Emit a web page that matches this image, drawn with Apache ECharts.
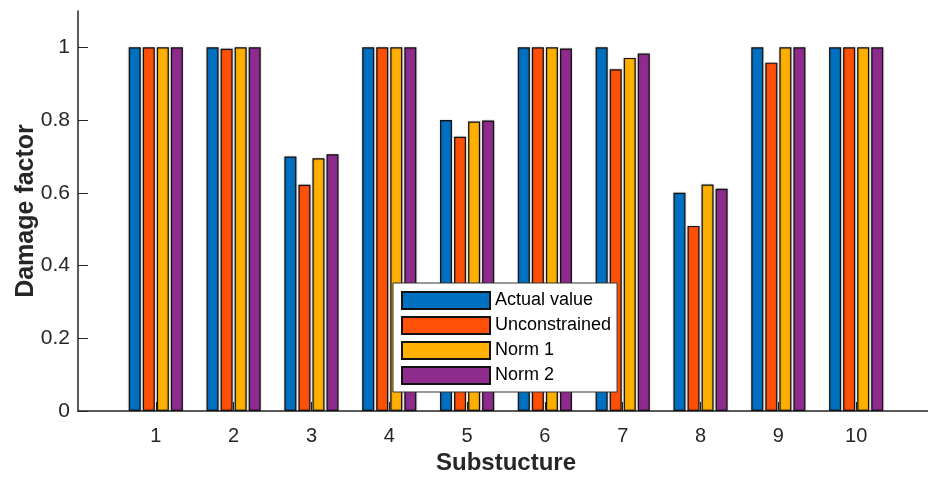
<!DOCTYPE html>
<html>
<head>
<meta charset="utf-8">
<script src="https://cdn.jsdelivr.net/npm/echarts@6/dist/echarts.min.js"></script>
<style>
  html, body { margin: 0; padding: 0; background: #fff; }
  #damageChart { width: 928px; height: 477px; }
</style>
</head>
<body>
<div id="damageChart"></div>
<script>
var substructures = [1, 2, 3, 4, 5, 6, 7, 8, 9, 10];
var actualValue = [1, 1, 0.7, 1, 0.8, 1, 1, 0.6, 1, 1];
var unconstrained = [1, 0.996, 0.622, 1, 0.754, 1, 0.94, 0.509, 0.958, 1];
var norm1 = [1, 1, 0.695, 1, 0.796, 1, 0.971, 0.623, 1, 1];
var norm2 = [1, 1, 0.706, 1, 0.799, 0.997, 0.983, 0.611, 1, 1];
var yTicks = [0, 0.2, 0.4, 0.6, 0.8, 1];

var seriesNames = ["Actual value", "Unconstrained", "Norm 1", "Norm 2"];
var seriesColors = ["#0070C0", "#FF5008", "#FFB000", "#8E2C8E"];
var seriesValues = [actualValue, unconstrained, norm1, norm2];

function toPairs(values) {
  return substructures.map(function (x, i) {
    return [x, values[i]];
  });
}

var myChart = echarts.init(document.getElementById("damageChart"));
myChart.setOption({
  animation: false,
  textStyle: { fontFamily: "Liberation Sans, Arial, sans-serif" },
  grid: {
    left: 78,
    top: 11,
    bottom: 66,
    right: -6,
    containLabel: false,
    outerBoundsMode: "none"
  },
  legend: {
    orient: "vertical",
    left: 393,
    top: 283,
    itemWidth: 88,
    itemHeight: 17,
    itemGap: 6,
    padding: [8, 6, 7, 8],
    backgroundColor: "#fff",
    borderColor: "#333",
    borderWidth: 1,
    borderRadius: 0,
    icon: "rect",
    textStyle: { fontSize: 18, lineHeight: 19, color: "#000" },
    data: seriesNames
  },
  xAxis: {
    type: "value",
    min: 0,
    max: 11,
    interval: 1,
    name: "Substucture",
    nameLocation: "middle",
    nameMoveOverlap: false,
    nameGap: 40,
    nameTextStyle: { fontSize: 24, fontWeight: "bold", color: "#262626" },
    splitLine: { show: false },
    axisLine: { lineStyle: { color: "#262626", width: 1.5 } },
    axisTick: {
      inside: true,
      length: 9,
      customValues: substructures,
      lineStyle: { color: "#262626" }
    },
    axisLabel: {
      customValues: substructures,
      margin: 15,
      fontSize: 20,
      color: "#262626"
    }
  },
  yAxis: {
    type: "value",
    min: 0,
    max: 1.1,
    name: "Damage factor",
    nameLocation: "middle",
    nameMoveOverlap: false,
    nameGap: 39,
    nameTextStyle: { fontSize: 25, fontWeight: "bold", color: "#262626" },
    splitLine: { show: false },
    axisLine: { show: true, lineStyle: { color: "#262626", width: 1.5 } },
    axisTick: {
      show: true,
      inside: true,
      length: 10,
      customValues: yTicks,
      lineStyle: { color: "#262626" }
    },
    axisLabel: {
      customValues: yTicks,
      margin: 8,
      fontSize: 21,
      color: "#262626"
    }
  },
  series: seriesNames.map(function (name, k) {
    return {
      name: name,
      type: "bar",
      barWidth: 12,
      barGap: "17%",
      data: toPairs(seriesValues[k]),
      itemStyle: {
        color: seriesColors[k],
        borderColor: "#111",
        borderWidth: 1.2,
        shadowColor: "rgba(0,0,0,0.25)",
        shadowBlur: 2
      }
    };
  })
});
</script>
</body>
</html>
